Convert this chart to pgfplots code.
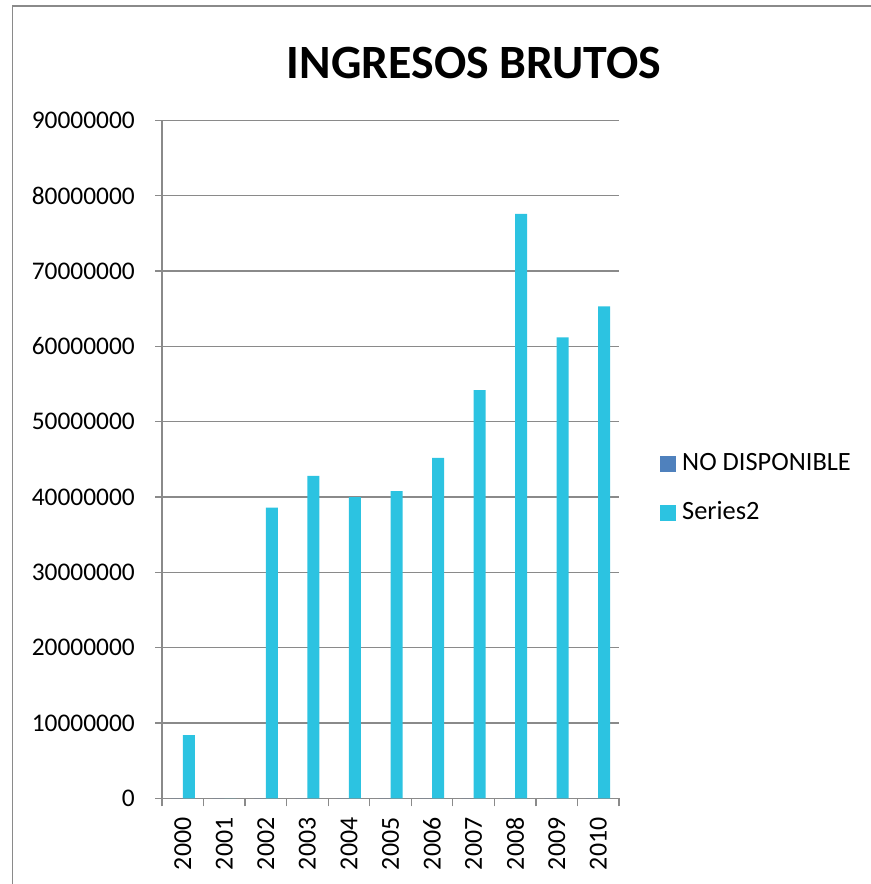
\documentclass[border=0pt]{standalone}
\usepackage{pgfplots}
\pgfplotsset{compat=1.18}
\usepackage{fontspec}
\setmainfont{Carlito}
\definecolor{gridc}{HTML}{8A8A8A}
\definecolor{sone}{HTML}{4F81BD}
\definecolor{stwo}{HTML}{2CC3E1}
\begin{document}
\begin{tikzpicture}[x=1bp,y=1bp]
\useasboundingbox (0,0) rectangle (871,884);
\draw[gridc, line width=1.3bp] (12.5,0) -- (12.5,878) -- (871,878);
\node[font=\bfseries\fontsize{48}{54}\selectfont, anchor=base, inner sep=0pt] at (474,805) {INGRESOS BRUTOS};
\begin{axis}[
  at={(162bp,85.6bp)}, anchor=south west,
  scale only axis, width=457bp, height=678bp,
  ybar=0pt, bar width=12bp,
  xmin=-0.5, xmax=10.5,
  ymin=0, ymax=90000000,
  ytick={0,10000000,20000000,30000000,40000000,50000000,60000000,70000000,80000000,90000000},
  scaled y ticks=false,
  xtick={0,1,2,3,4,5,6,7,8,9,10},
  xticklabels={2000,2001,2002,2003,2004,2005,2006,2007,2008,2009,2010},
  minor xtick={-0.5,0.5,1.5,2.5,3.5,4.5,5.5,6.5,7.5,8.5,9.5,10.5},
  axis x line*=bottom, axis y line*=left,
  axis line style={gridc, line width=1.3bp, -},
  tick align=outside,
  major tick length=7bp, minor tick length=8bp,
  major x tick style={draw=none},
  minor x tick style={gridc, line width=1.3bp},
  ytick style={gridc, line width=1.3bp},
  ymajorgrids, grid style={gridc, line width=1.3bp},
  /pgf/number format/assume math mode=true,
  yticklabel style={/pgf/number format/fixed, /pgf/number format/1000 sep={}, font=\fontsize{25.5}{30}\selectfont, inner sep=0pt, xshift=-20bp},
  xticklabel style={font=\fontsize{26}{30}\selectfont, rotate=90, anchor=east, inner sep=0pt, xshift=-12bp},
  legend style={draw=none, fill=none, at={(1,0.457)}, anchor=west, xshift=38bp,
    font=\fontsize{26.5}{30}\selectfont, row sep=25bp,
    nodes={inner sep=0pt, text height=18bp, text depth=6bp}},
  legend cell align=left,
  legend image code/.code={\fill[#1] (0bp,-8bp) rectangle (16bp,8bp);},
]
\addplot[fill=sone, draw=none] coordinates {(0,0) (1,0) (2,0) (3,0) (4,0) (5,0) (6,0) (7,0) (8,0) (9,0) (10,0)};
\addlegendentry{\hspace{6bp}NO DISPONIBLE}
\addplot[fill=stwo, draw=none] coordinates {(0,8400000) (1,0) (2,38600000) (3,42800000) (4,40000000) (5,40800000) (6,45200000) (7,54200000) (8,77600000) (9,61200000) (10,65300000)};
\addlegendentry{\hspace{6bp}Series2}
\end{axis}
\end{tikzpicture}
\end{document}
